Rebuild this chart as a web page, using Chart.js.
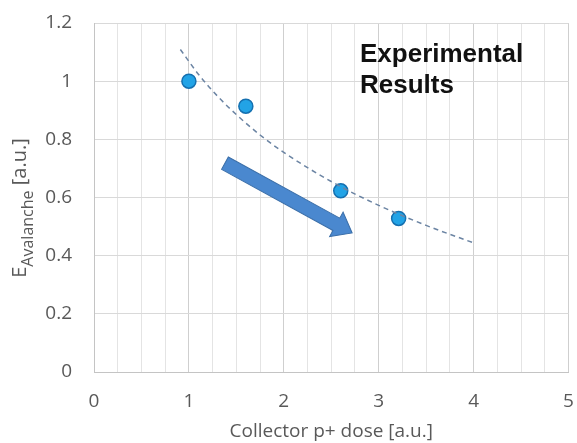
<!DOCTYPE html>
<html>
<head>
<meta charset="utf-8">
<script src="https://cdn.jsdelivr.net/npm/chart.js@4.4.0/dist/chart.umd.min.js"></script>
<style>
  html, body { margin: 0; padding: 0; background: #fff; }
  #wrap { width: 577px; height: 443px; }
</style>
</head>
<body>
<div id="wrap"><canvas id="avalancheChart"></canvas></div>
<script>
// measured points
var doseX = [1.0, 1.6, 2.6, 3.21];
var eAval = [1.0, 0.914, 0.623, 0.528];

// dashed trend line
var trendX = [0.91, 1.1, 1.3, 1.5, 1.75, 2.0, 2.5, 3.0, 3.5, 4.0];
var trendY = [1.109, 1.024, 0.949, 0.885, 0.815, 0.755, 0.655, 0.573, 0.504, 0.444];

var xTicks = [0, 1, 2, 3, 4, 5];
var yTicks = [0, 0.2, 0.4, 0.6, 0.8, 1, 1.2];

// arrow annotation, in data units
var arrowFrom = [1.38, 0.718];
var arrowTo = [2.72, 0.478];

var tickFont = { family: 'Open Sans', size: 19 };
var grey = '#595959';

var extras = {
  id: 'extras',
  afterDatasetsDraw: function (chart) {
    var c = chart.ctx, xs = chart.scales.x, ys = chart.scales.y;
    // arrow
    var x0 = xs.getPixelForValue(arrowFrom[0]), y0 = ys.getPixelForValue(arrowFrom[1]);
    var x1 = xs.getPixelForValue(arrowTo[0]), y1 = ys.getPixelForValue(arrowTo[1]);
    var len = Math.hypot(x1 - x0, y1 - y0), ang = Math.atan2(y1 - y0, x1 - x0);
    var sw = 7, hw = 14, hl = 18;
    c.save();
    c.translate(x0, y0);
    c.rotate(ang);
    c.beginPath();
    c.moveTo(0, -sw);
    c.lineTo(len - hl, -sw);
    c.lineTo(len - hl, -hw);
    c.lineTo(len, 0);
    c.lineTo(len - hl, hw);
    c.lineTo(len - hl, sw);
    c.lineTo(0, sw);
    c.closePath();
    c.fillStyle = '#4a88cf';
    c.fill();
    c.strokeStyle = '#3a6ea8';
    c.lineWidth = 1;
    c.stroke();
    c.restore();

    // label in the plot
    c.save();
    c.fillStyle = '#111';
    c.font = 'bold 26px "Liberation Sans", Arial, sans-serif';
    c.textBaseline = 'alphabetic';
    c.fillText('Experimental', 360, 62);
    c.fillText('Results', 360, 93);
    c.restore();
  },
  afterDraw: function (chart) {
    // y axis title with subscript
    var c = chart.ctx;
    var big = '20px "Open Sans"', small = '16px "Open Sans"';
    c.save();
    c.fillStyle = grey;
    c.font = big;
    var wE = c.measureText('E').width, wU = c.measureText(' [a.u.]').width;
    c.font = small;
    var wS = c.measureText('Avalanche').width;
    var total = wE + wS + wU;
    c.translate(26, 208);
    c.rotate(-Math.PI / 2);
    var x = -total / 2;
    c.textBaseline = 'alphabetic';
    c.font = big; c.fillText('E', x, 0); x += wE;
    c.font = small; c.fillText('Avalanche', x, 7); x += wS;
    c.font = big; c.fillText(' [a.u.]', x, 0);
    c.restore();
  }
};

new Chart(document.getElementById('avalancheChart'), {
  type: 'scatter',
  data: {
    datasets: [
      {
        label: 'trend',
        type: 'line',
        data: trendX.map(function (x, i) { return { x: x, y: trendY[i] }; }),
        borderColor: '#6b84a3',
        borderWidth: 1.5,
        borderDash: [5, 4],
        pointRadius: 0,
        fill: false,
        cubicInterpolationMode: 'monotone'
      },
      {
        label: 'measured',
        data: doseX.map(function (x, i) { return { x: x, y: eAval[i] }; }),
        backgroundColor: '#22a3e6',
        borderColor: '#1570b0',
        borderWidth: 1.5,
        pointRadius: 7
      }
    ]
  },
  options: {
    responsive: true,
    maintainAspectRatio: false,
    animation: false,
    layout: { padding: { left: 0, right: 3, top: 23, bottom: 0 } },
    plugins: { legend: { display: false }, tooltip: { enabled: false } },
    scales: {
      x: {
        type: 'linear', min: 0, max: 5,
        afterBuildTicks: function (s) {
          var t = [];
          for (var v = 0; v <= 20; v++) t.push({ value: v / 4 });
          s.ticks = t;
        },
        afterFit: function (s) {
          s.height = 71;
          s.paddingLeft = 0; s.paddingRight = 0;
        },
        ticks: {
          autoSkip: false, maxRotation: 0, padding: 18,
          color: grey, font: tickFont,
          callback: function (v) { return xTicks.indexOf(v) >= 0 ? String(v) : ''; }
        },
        grid: {
          color: function (ctx) { return Number.isInteger(ctx.tick.value) ? '#cfcfcf' : '#e4e4e4'; },
          lineWidth: 1,
          drawTicks: false
        },
        border: { color: '#c4c4c4' },
        title: {
          display: true, text: 'Collector p+ dose [a.u.]',
          color: grey, font: { family: 'Open Sans', size: 19 }, padding: 0
        }
      },
      y: {
        type: 'linear', min: 0, max: 1.2,
        afterBuildTicks: function (s) {
          s.ticks = yTicks.map(function (v) { return { value: v }; });
        },
        afterFit: function (s) {
          s.width = 94;
          s.paddingTop = 0; s.paddingBottom = 0;
        },
        ticks: {
          padding: 22, color: grey, font: tickFont,
          callback: function (v) { return String(Math.round(v * 10) / 10); }
        },
        grid: { color: '#d9d9d9', lineWidth: 1, drawTicks: false },
        border: { color: '#c4c4c4' }
      }
    }
  },
  plugins: [extras]
});
</script>
</body>
</html>
